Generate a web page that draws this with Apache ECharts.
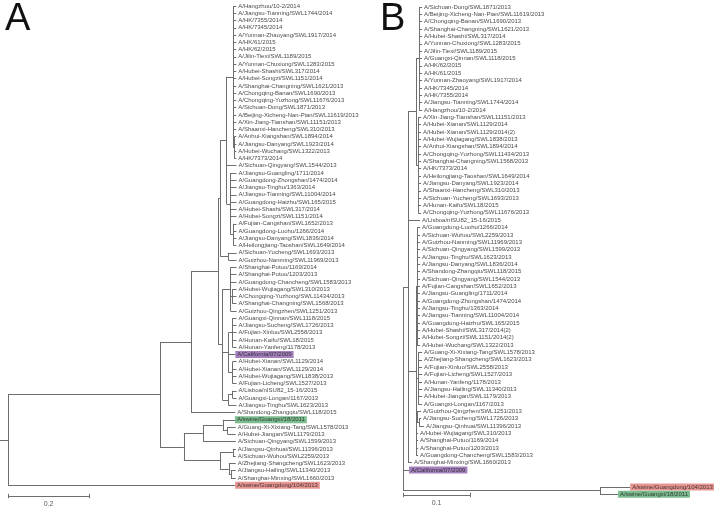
<!DOCTYPE html>
<html><head><meta charset="utf-8">
<script src="https://cdn.jsdelivr.net/npm/echarts@6/dist/echarts.min.js"></script>
<style>html,body{margin:0;padding:0;background:#fff}#c{width:714px;height:510px}</style>
</head><body><div id="c"></div>
<script>
// ---------- DATA ----------
// Tree format: leaf = [name, branchLength]; internal = [[children...], branchLength]
const cladeA_top = [
  ['A/Hangzhou/10-2/2014', 0.0074],
  ['A/Jiangsu-Tianning/SWL1744/2014', 0.0074],
  ['A/HK/7355/2014', 0.0074],
  ['A/HK/7345/2014', 0.0074],
  ['A/Yunnan-Zhaoyang/SWL1917/2014', 0.0074],
  ['A/HK/61/2015', 0.0074],
  ['A/HK/62/2015', 0.0074],
  ['A/Jilin-Tiexi/SWL1189/2015', 0.0074],
  ['A/Yunnan-Chuxiong/SWL1283/2015', 0.0074],
  ['A/Hubei-Shashi/SWL317/2014', 0.0074],
  ['A/Hubei-Songzi/SWL1151/2014', 0.0074],
  ['A/Shanghai-Changning/SWL1621/2013', 0.0074],
  ['A/Chongqing-Banan/SWL1690/2013', 0.0074],
  ['A/Chongqing-Yuzhong/SWL11676/2013', 0.0074],
  ['A/Sichuan-Dong/SWL1871/2013', 0.0074],
  ['A/Beijing-Xicheng-Nan-Pian/SWL11619/2013', 0.0074],
  ['A/Xin-Jiang-Tianshan/SWL11151/2013', 0.0074],
  ['A/Shaanxi-Hancheng/SWL310/2013', 0.0074],
  [[['A/Anhui-Xiangshan/SWL1894/2014', 0.005],
    ['A/Jiangsu-Danyang/SWL1923/2014', 0.005],
    ['A/Hubei-Wuchang/SWL1322/2013', 0.005],
    ['A/HK/7373/2014', 0.005]], 0.0025]
];
const cladeA_mid = [
  ['A/Jiangsu-Guangling/1711/2014', 0.015],
  ['A/Guangdong-Zhongshan/1474/2014', 0.015],
  ['A/Jiangsu-Tinghu/1363/2014', 0.015],
  ['A/Jiangsu-Tianning/SWL11004/2014', 0.015],
  ['A/Guangdong-Haizhu/SWL165/2015', 0.015],
  ['A/Hubei-Shashi/SWL317/2014', 0.015],
  ['A/Hubei-Songzi/SWL1151/2014', 0.015],
  [[['A/Fujian-Cangshan/SWL1652/2013', 0.0074],
    ['A/Guangdong-Luohu/1266/2014', 0.0074],
    ['A/Jiangsu-Danyang/SWL1836/2014', 0.0074],
    ['A/Heilongjiang-Taoshan/SWL1649/2014', 0.0074]], 0.0074]
];
const cladeA_low = [
  [[['A/Shanghai-Putuo/1169/2014', 0.015],
    ['A/Shanghai-Putuo/1203/2013', 0.015],
    ['A/Guangdong-Chancheng/SWL1583/2013', 0.015],
    [[['A/Hubei-Wujiagang/SWL310/2013', 0.01],
      ['A/Chongqing-Yuzhong/SWL11434/2013', 0.01],
      ['A/Shanghai-Changning/SWL1568/2013', 0.01]], 0.005],
    ['A/Guizhou-Qingzhen/SWL1251/2013', 0.015]], 0.02],
  [[[[['A/Guangxi-Qinnan/SWL1118/2015', 0.01],
      ['A/Jiangsu-Sucheng/SWL1726/2013', 0.01],
      ['A/Fujian-Xinluo/SWL2558/2013', 0.01],
      ['A/Hunan-Kaifu/SWL18/2015', 0.01],
      ['A/Hunan-Yanfeng/1178/2013', 0.01]], 0.01],
    ['A/California/07/2009', 0.017],
    [[['A/Hubei-Xianan/SWL1129/2014', 0.01],
      ['A/Hubei-Xianan/SWL1129/2014', 0.01],
      ['A/Hubei-Wujiagang/SWL1838/2013', 0.01],
      ['A/Fujian-Licheng/SWL1527/2013', 0.01]], 0.01]], 0.015],
  [[[[['A/Lisboa/nISU82_15-16/2015', 0.01],
      ['A/Guangxi-Longan/1167/2013', 0.01]], 0.01],
    ['A/Jiangsu-Tinghu/SWL1623/2013', 0.02]], 0.015]
];
const cladeA_out = [
  [[[[['A/swine/Guangxi/18/2011', 0.03],
      [[['A/Guang-Xi-Xixiang-Tang/SWL1578/2013', 0.02],
        ['A/Hubei-Jiangan/SWL1179/2013', 0.02]], 0.012]], 0.049],
    ['A/Sichuan-Qingyang/SWL1599/2013', 0.0815]], 0.047],
  [[[[['A/Jiangsu-Qinhuai/SWL11396/2013', 0.0074],
      ['A/Sichuan-Wuhou/SWL2259/2013', 0.0074]], 0.032],
    [[['A/Zhejiang-Shangcheng/SWL1623/2013', 0.017],
      [[['A/Jiangsu-Hailing/SWL11340/2013', 0.012],
        ['A/Shanghai-Minxing/SWL1660/2013', 0.012]], 0.005]], 0.022]], 0.089]
];
const treeA = [[
  [[
    [[
      [[
        [[
          [[
            [cladeA_top, 0.017],
            ['A/Sichuan-Qingyang/SWL1544/2013', 0.025],
            [cladeA_mid, 0.01]
          ], 0.015],
          [[['A/Sichuan-Yucheng/SWL1693/2013', 0.02],
            ['A/Guizhou-Nanming/SWL11969/2013', 0.02]], 0.02]
        ], 0.005],
        [cladeA_low, 0.01]
      ], 0.067],
      ['A/Shandong-Zhangqiu/SWL118/2015', 0.109]
    ], 0.077],
    [cladeA_out, 0.059]
  ], 0.375],
  ['A/swine/Guangdong/104/2013', 0.5605]
], 0.02];

const cladeB_1 = [
  'A/Sichuan-Dong/SWL1871/2013','A/Beijing-Xicheng-Nan-Pian/SWL11619/2013','A/Chongqing-Banan/SWL1690/2013',
  'A/Shanghai-Changning/SWL1621/2013','A/Hubei-Shashi/SWL317/2014','A/Yunnan-Chuxiong/SWL1283/2015',
  'A/Jilin-Tiexi/SWL1189/2015','A/Guangxi-Qinnan/SWL1118/2015','A/HK/62/2015','A/HK/61/2015',
  'A/Yunnan-Zhaoyang/SWL1917/2014','A/HK/7345/2014','A/HK/7355/2014','A/Jiangsu-Tianning/SWL1744/2014',
  'A/Hangzhou/10-2/2014'
];
const cladeB_2 = [
  'A/Xin-Jiang-Tianshan/SWL11151/2013','A/Hubei-Xianan/SWL1129/2014','A/Hubei-Xianan/SWL1129/2014(2)',
  'A/Hubei-Wujiagang/SWL1838/2013','A/Anhui-Xiangshan/SWL1894/2014','A/Chongqing-Yuzhong/SWL11434/2013',
  'A/Shanghai-Changning/SWL1568/2013','A/HK/7373/2014','A/Heilongjiang-Taoshan/SWL1649/2014',
  'A/Jiangsu-Danyang/SWL1923/2014','A/Shaanxi-Hancheng/SWL310/2013','A/Sichuan-Yucheng/SWL1693/2013',
  'A/Hunan-Kaifu/SWL18/2015','A/Chongqing-Yuzhong/SWL11676/2013'
];
const cladeB_3 = [
  'A/Guangdong-Luohu/1266/2014','A/Sichuan-Wuhou/SWL2259/2013','A/Guizhou-Nanming/SWL11969/2013',
  'A/Sichuan-Qingyang/SWL1599/2013','A/Jiangsu-Tinghu/SWL1623/2013','A/Jiangsu-Danyang/SWL1836/2014',
  'A/Shandong-Zhangqiu/SWL118/2015','A/Sichuan-Qingyang/SWL1544/2013','A/Fujian-Cangshan/SWL1652/2013',
  'A/Jiangsu-Guangling/1711/2014','A/Guangdong-Zhongshan/1474/2014','A/Jiangsu-Tinghu/1363/2014',
  'A/Jiangsu-Tianning/SWL11004/2014','A/Guangdong-Haizhu/SWL165/2015','A/Hubei-Shashi/SWL317/2014(2)',
  'A/Hubei-Songzi/SWL1151/2014(2)','A/Hubei-Wuchang/SWL1322/2013'
];
const cladeB_4 = [
  'A/Guang-Xi-Xixiang-Tang/SWL1578/2013','A/Zhejiang-Shangcheng/SWL1623/2013','A/Fujian-Xinluo/SWL2558/2013',
  'A/Fujian-Licheng/SWL1527/2013','A/Hunan-Yanfeng/1178/2013','A/Jiangsu-Hailing/SWL11340/2013',
  'A/Hubei-Jiangan/SWL1179/2013','A/Guangxi-Longan/1167/2013'
];
const cladeB_5 = ['A/Hubei-Wujiagang/SWL310/2013','A/Shanghai-Putuo/1169/2014','A/Shanghai-Putuo/1203/2013','A/Guangdong-Chancheng/SWL1583/2013'];
const lenB = [0.0045, 0.0045, 0.0045, 0.006, 0.003];

const treeB = [[
  [[
    [[
      [cladeB_1.map(n => [n, lenB[0]]), 0.0045],
      [cladeB_2.map(n => [n, lenB[1]]), 0.003]
    ], 0.012],
    ['A/Lisboa/nISU82_15-16/2015', 0.018],
    [[
      [cladeB_3.map(n => [n, lenB[2]]), 0.0015],
      [cladeB_4.map(n => [n, lenB[3]]), 0.003],
      [[['A/Guizhou-Qingzhen/SWL1251/2013', 0.006],
        [[['A/Jiangsu-Sucheng/SWL1726/2013', 0.003],
          ['A/Jiangsu-Qinhuai/SWL11396/2013', 0.0075]], 0.003]], 0.0015]
    ].concat(cladeB_5.map(n => [n, lenB[4]])), 0.012],
    ['A/Shanghai-Minxing/SWL1660/2013', 0.006]
  ], 0.0075],
  ['A/California/07/2009', 0.009],
  [[['A/swine/Guangdong/104/2013', 0.045],
    ['A/swine/Guangxi/18/2011', 0.027]], 0.294]
], 0];

const scaleLengths = [0.2, 0.1];
const scaleLabels = ['0.2', '0.1'];
const panelLetters = ['A', 'B'];

// ---------- STYLE / LAYOUT ----------
const hl = {
  'A/California/07/2009': '#8d62ad',
  'A/swine/Guangdong/104/2013': '#e07b76',
  'A/swine/Guangxi/18/2011': '#5dab73'
};
const gapB = { 'A/swine/Guangdong/104/2013': 1.3 };  // extra row spacing in panel B drawing
const LINE = '#6e6e6e';
const FONT = 'Liberation Sans, Arial, sans-serif';

function build(tree, gaps) {
  const out = { tips: [], segs: [] };
  let n = 0;
  (function walk(node, px) {
    const x = px + node[1];
    if (typeof node[0] === 'string') {
      if (gaps && gaps[node[0]]) n += gaps[node[0]];
      const y = n; n += 1;
      out.tips.push([x, y, node[0]]);
      out.segs.push([[px, y], [x, y]]);
      return y;
    }
    const ys = node[0].map(c => walk(c, x));
    const y0 = ys[0], y1 = ys[ys.length - 1], y = (y0 + y1) / 2;
    out.segs.push([[x, y0], [x, y1]]);
    if (node[1] > 0) out.segs.push([[px, y], [x, y]]);
    return y;
  })(tree, 0);
  return out;
}

const A = build(treeA), B = build(treeB, gapB);

function treeSeries(t, idx) {
  return [{
    type: 'lines', coordinateSystem: 'cartesian2d', xAxisIndex: idx, yAxisIndex: idx,
    silent: true, animation: false,
    lineStyle: { color: LINE, width: 1, opacity: 1 },
    data: t.segs.map(s => ({ coords: s }))
  }, {
    type: 'scatter', xAxisIndex: idx, yAxisIndex: idx, silent: true, animation: false,
    symbolSize: 0, itemStyle: { color: 'transparent' },
    label: { show: true, position: 'right', distance: 2, formatter: '{b}', fontSize: 6,
             fontFamily: FONT, color: '#151515' },
    data: t.tips.map(p => {
      const d = { name: p[2], value: [p[0], p[1]] };
      if (hl[p[2]]) d.label = { backgroundColor: hl[p[2]], padding: [1, 2, 0, 2], distance: 0, color: '#1a1a1a' };
      return d;
    })
  }];
}

function scaleSeries(idx, x0, yb, len, lab) {
  const t = 0.3;
  return [{
    type: 'lines', coordinateSystem: 'cartesian2d', xAxisIndex: idx, yAxisIndex: idx,
    silent: true, animation: false, lineStyle: { color: LINE, width: 1, opacity: 1 },
    data: [{ coords: [[x0, yb], [x0 + len, yb]] }, { coords: [[x0, yb - t], [x0, yb + t]] },
           { coords: [[x0 + len, yb - t], [x0 + len, yb + t]] }]
  }, {
    type: 'scatter', xAxisIndex: idx, yAxisIndex: idx, silent: true, animation: false,
    symbolSize: 0, itemStyle: { color: 'transparent' },
    label: { show: true, position: 'inside', formatter: lab, fontSize: 7, fontFamily: FONT, color: '#333' },
    data: [[x0 + len / 2, yb + 1.15]]
  }];
}

const chart = echarts.init(document.getElementById('c'), null, { renderer: 'canvas' });
chart.setOption({
  animation: false,
  backgroundColor: '#fff',
  grid: [
    { left: 0, top: 6, width: 405, height: 69 * 7.26 },
    { left: 403, top: 7, width: 268, height: 68 * 7.35 }
  ],
  xAxis: [
    { type: 'value', min: 0, max: 1, show: false, gridIndex: 0 },
    { type: 'value', min: 0, max: 0.4, show: false, gridIndex: 1 }
  ],
  yAxis: [
    { type: 'value', min: 0, max: 69, inverse: true, show: false, gridIndex: 0 },
    { type: 'value', min: 0, max: 68, inverse: true, show: false, gridIndex: 1 }
  ],
  graphic: [
    { type: 'text', left: 5, top: 1, style: { text: panelLetters[0], fontSize: 38, fontFamily: FONT, fill: '#111' } },
    { type: 'text', left: 380, top: 1, style: { text: panelLetters[1], fontSize: 38, fontFamily: FONT, fill: '#111' } }
  ],
  series: [].concat(
    treeSeries(A, 0), treeSeries(B, 1),
    scaleSeries(0, 0.02, 67.5, scaleLengths[0], scaleLabels[0]),
    scaleSeries(1, 0, 66.4, scaleLengths[1], scaleLabels[1])
  )
});
</script></body></html>
